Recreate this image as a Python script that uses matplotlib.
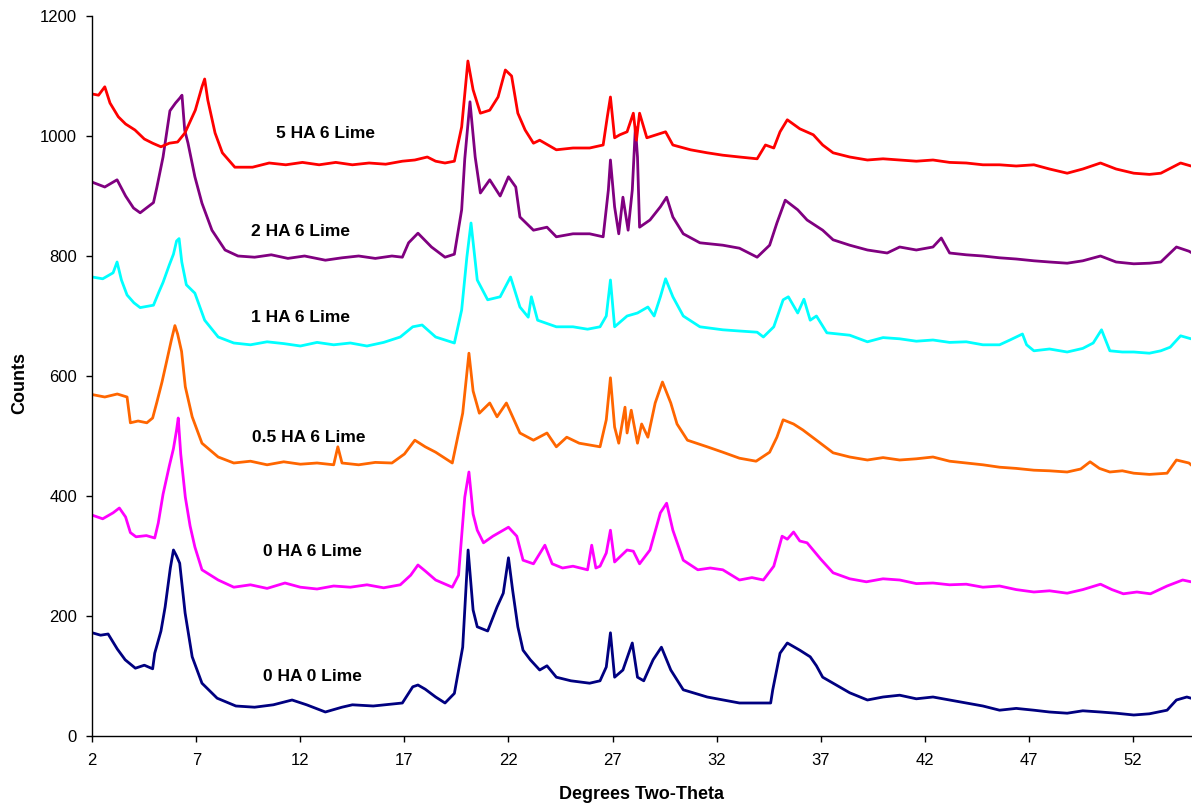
import matplotlib
matplotlib.use("Agg")
import matplotlib.pyplot as plt

# XRD scans, (two-theta, counts)
hA0_lime0 = [
    (2.0, 172), (2.4, 168), (2.76, 170), (3.2, 145), (3.58, 127), (4.07, 113), (4.5, 118),
    (4.9, 112), (5.0, 138), (5.3, 175), (5.5, 215), (5.75, 280), (5.9, 310), (6.05, 300),
    (6.2, 288), (6.46, 205), (6.8, 132), (7.27, 88), (8.0, 63), (8.9, 50), (9.8, 48),
    (10.7, 52), (11.6, 60), (12.3, 52), (13.2, 40), (14.0, 48), (14.5, 52), (15.5, 50),
    (16.9, 55), (17.4, 82), (17.65, 85), (18.0, 78), (18.5, 65), (18.95, 55), (19.4, 71),
    (19.8, 148), (20.06, 310), (20.3, 210), (20.5, 182), (21.0, 175), (21.45, 215),
    (21.75, 238), (22.0, 297), (22.2, 243), (22.45, 182), (22.7, 143), (23.05, 127),
    (23.5, 110), (23.85, 117), (24.3, 98), (25.0, 92), (25.9, 88), (26.4, 92), (26.7, 115),
    (26.9, 172), (27.1, 98), (27.5, 110), (27.95, 155), (28.2, 98), (28.5, 92), (28.95, 127),
    (29.35, 148), (29.8, 110), (30.4, 77), (31.55, 65), (33.1, 55), (34.6, 55), (34.7, 77),
    (35.05, 138), (35.4, 155), (36.0, 143), (36.5, 132), (36.8, 117), (37.1, 98), (37.6, 88),
    (38.4, 72), (39.25, 60), (40.0, 65), (40.8, 68), (41.6, 62), (42.4, 65), (43.2, 60),
    (44.0, 55), (44.8, 50), (45.6, 43), (46.4, 46), (47.25, 43), (48.0, 40), (48.85, 38),
    (49.6, 42), (50.45, 40), (51.2, 38), (52.05, 35), (52.8, 37), (53.65, 43), (54.1, 60),
    (54.6, 65), (54.8, 63),
]
hA0_lime6 = [
    (2.0, 368), (2.5, 362), (3.0, 372), (3.3, 380), (3.6, 365), (3.83, 339), (4.1, 332),
    (4.6, 334), (5.0, 330), (5.17, 355), (5.4, 403), (5.7, 450), (5.9, 479), (6.05, 510),
    (6.13, 530), (6.25, 470), (6.47, 398), (6.7, 350), (6.93, 315), (7.27, 277), (8.05, 260),
    (8.8, 248), (9.6, 252), (10.4, 246), (11.26, 255), (12.0, 248), (12.8, 245), (13.6, 250),
    (14.4, 248), (15.2, 252), (16.0, 247), (16.8, 252), (17.3, 268), (17.65, 285), (18.0, 275),
    (18.5, 260), (19.3, 248), (19.6, 268), (19.9, 398), (20.1, 440), (20.3, 370), (20.5, 343),
    (20.8, 322), (21.25, 333), (21.6, 340), (22.0, 348), (22.4, 333), (22.7, 293), (23.2, 287),
    (23.75, 318), (24.1, 287), (24.6, 280), (25.1, 283), (25.8, 277), (26.0, 318), (26.2, 280),
    (26.4, 283), (26.7, 305), (26.9, 343), (27.1, 290), (27.4, 300), (27.7, 310), (28.0, 308),
    (28.3, 287), (28.8, 310), (29.3, 372), (29.6, 388), (29.9, 343), (30.4, 293), (31.1, 277),
    (31.7, 280), (32.3, 277), (33.1, 260), (33.7, 264), (34.25, 260), (34.75, 283),
    (35.15, 333), (35.4, 328), (35.7, 340), (36.0, 325), (36.35, 322), (37.0, 295),
    (37.6, 272), (38.4, 262), (39.2, 257), (40.0, 262), (40.8, 260), (41.6, 254), (42.4, 255),
    (43.2, 252), (44.0, 253), (44.8, 248), (45.6, 250), (46.4, 244), (47.25, 240), (48.0, 242),
    (48.85, 238), (49.6, 244), (50.45, 253), (51.0, 244), (51.55, 237), (52.2, 240),
    (52.85, 237), (53.65, 250), (54.4, 260), (54.8, 257),
]
hA05_lime6 = [
    (2.0, 569), (2.6, 565), (3.2, 570), (3.67, 565), (3.83, 522), (4.2, 525), (4.62, 522),
    (4.9, 530), (5.1, 556), (5.35, 590), (5.57, 624), (5.8, 660), (5.97, 684), (6.1, 670),
    (6.29, 641), (6.47, 582), (6.8, 532), (7.27, 488), (8.05, 465), (8.8, 455), (9.6, 458),
    (10.4, 452), (11.2, 457), (12.0, 453), (12.8, 455), (13.6, 452), (13.8, 482), (14.0, 455),
    (14.8, 452), (15.6, 456), (16.4, 455), (17.0, 470), (17.5, 493), (18.0, 482), (18.5, 473),
    (19.3, 455), (19.8, 538), (20.1, 638), (20.3, 575), (20.6, 538), (21.1, 555), (21.45, 532),
    (21.9, 555), (22.2, 532), (22.55, 505), (23.2, 493), (23.85, 505), (24.3, 482), (24.8, 498),
    (25.4, 488), (26.4, 482), (26.7, 527), (26.9, 597), (27.1, 515), (27.3, 488), (27.6, 548),
    (27.7, 505), (27.9, 543), (28.2, 488), (28.4, 520), (28.7, 498), (29.05, 555), (29.4, 590),
    (29.8, 555), (30.1, 520), (30.6, 493), (31.55, 482), (32.3, 473), (33.1, 463), (33.9, 458),
    (34.55, 473), (34.9, 498), (35.2, 527), (35.7, 520), (36.15, 510), (36.8, 493), (37.6, 472),
    (38.4, 465), (39.25, 460), (40.0, 464), (40.8, 460), (41.6, 462), (42.4, 465), (43.2, 458),
    (44.0, 455), (44.8, 452), (45.6, 448), (46.4, 446), (47.25, 443), (48.0, 442), (48.85, 440),
    (49.5, 445), (49.95, 457), (50.4, 446), (50.9, 440), (51.5, 442), (52.05, 438), (52.8, 436),
    (53.65, 438), (54.1, 460), (54.7, 455), (54.8, 452),
]
hA1_lime6 = [
    (2.0, 765), (2.5, 762), (3.0, 772), (3.19, 790), (3.4, 760), (3.67, 735), (4.0, 722),
    (4.3, 714), (4.94, 718), (5.2, 740), (5.4, 756), (5.7, 785), (5.9, 803), (6.05, 825),
    (6.17, 829), (6.3, 790), (6.52, 752), (6.93, 738), (7.4, 693), (8.05, 665), (8.8, 655),
    (9.6, 652), (10.4, 657), (11.2, 654), (12.0, 650), (12.8, 656), (13.6, 652), (14.4, 655),
    (15.2, 650), (16.0, 656), (16.8, 665), (17.4, 682), (17.85, 685), (18.5, 665), (19.4, 655),
    (19.75, 710), (20.0, 798), (20.2, 855), (20.5, 760), (21.0, 727), (21.6, 732), (22.1, 765),
    (22.55, 715), (22.95, 698), (23.1, 732), (23.4, 693), (24.3, 682), (25.1, 682), (25.8, 678),
    (26.4, 682), (26.7, 700), (26.9, 760), (27.1, 682), (27.7, 700), (28.2, 705), (28.7, 715),
    (29.0, 700), (29.3, 732), (29.55, 762), (29.9, 732), (30.4, 700), (31.2, 682), (32.3, 677),
    (33.1, 675), (33.95, 673), (34.25, 665), (34.75, 682), (35.2, 727), (35.45, 732),
    (35.9, 705), (36.2, 728), (36.5, 693), (36.8, 700), (37.3, 672), (38.4, 668), (39.25, 657),
    (40.0, 664), (40.8, 662), (41.6, 658), (42.4, 660), (43.2, 656), (44.0, 657), (44.8, 652),
    (45.6, 652), (46.1, 660), (46.7, 670), (46.9, 652), (47.25, 642), (48.0, 645), (48.85, 640),
    (49.6, 646), (50.1, 655), (50.5, 677), (50.9, 642), (51.5, 640), (52.05, 640), (52.8, 638),
    (53.35, 642), (53.8, 648), (54.3, 667), (54.8, 662),
]
hA2_lime6 = [
    (2.0, 923), (2.6, 915), (3.19, 927), (3.6, 900), (3.98, 880), (4.3, 872), (4.6, 880),
    (4.94, 889), (5.1, 914), (5.4, 965), (5.73, 1042), (6.0, 1055), (6.2, 1063), (6.31, 1068),
    (6.44, 1010), (6.6, 988), (6.93, 932), (7.27, 888), (7.75, 843), (8.38, 810), (9.0, 800),
    (9.8, 798), (10.6, 802), (11.4, 796), (12.2, 800), (13.2, 793), (14.0, 797), (14.8, 800),
    (15.6, 796), (16.4, 800), (16.9, 798), (17.2, 822), (17.65, 838), (18.3, 815), (18.95, 798),
    (19.4, 803), (19.75, 877), (19.9, 962), (20.15, 1057), (20.4, 965), (20.65, 905),
    (21.1, 927), (21.6, 900), (22.0, 932), (22.35, 915), (22.55, 865), (23.2, 843), (23.85, 848),
    (24.3, 832), (25.1, 837), (25.9, 837), (26.55, 832), (26.8, 910), (26.9, 960), (27.1, 882),
    (27.3, 837), (27.5, 898), (27.75, 843), (27.95, 910), (28.1, 1015), (28.2, 965), (28.3, 848),
    (28.8, 860), (29.3, 882), (29.6, 898), (29.9, 865), (30.4, 837), (31.2, 822), (32.3, 818),
    (33.1, 813), (33.95, 798), (34.55, 818), (34.9, 855), (35.3, 893), (35.9, 877), (36.35, 860),
    (37.1, 843), (37.6, 827), (38.4, 818), (39.25, 810), (40.2, 805), (40.8, 815), (41.6, 810),
    (42.4, 815), (42.8, 830), (43.2, 805), (44.0, 802), (44.8, 800), (45.6, 797), (46.4, 795),
    (47.25, 792), (48.0, 790), (48.85, 788), (49.6, 792), (50.45, 800), (51.2, 790), (52.05, 787),
    (52.8, 788), (53.35, 790), (54.1, 815), (54.7, 808), (54.8, 806),
]
hA5_lime6 = [
    (2.0, 1070), (2.3, 1068), (2.6, 1082), (2.85, 1055), (3.25, 1032), (3.6, 1020), (4.05, 1010),
    (4.5, 995), (4.9, 988), (5.3, 982), (5.7, 988), (6.1, 990), (6.45, 1005), (6.95, 1043),
    (7.27, 1082), (7.4, 1095), (7.55, 1060), (7.9, 1005), (8.25, 972), (8.85, 948), (9.7, 948),
    (10.5, 955), (11.3, 952), (12.1, 956), (12.9, 952), (13.7, 956), (14.5, 952), (15.3, 955),
    (16.1, 953), (16.9, 958), (17.5, 960), (18.1, 965), (18.5, 958), (18.95, 955), (19.4, 958),
    (19.75, 1015), (20.05, 1125), (20.3, 1077), (20.65, 1038), (21.1, 1043), (21.5, 1065),
    (21.85, 1110), (22.15, 1100), (22.45, 1038), (22.8, 1010), (23.2, 988), (23.5, 993),
    (24.3, 977), (25.1, 980), (25.9, 980), (26.55, 985), (26.75, 1032), (26.9, 1065),
    (27.1, 997), (27.35, 1002), (27.7, 1007), (28.0, 1038), (28.15, 993), (28.3, 1038),
    (28.65, 997), (29.1, 1002), (29.55, 1007), (29.9, 985), (30.75, 977), (31.55, 972),
    (32.3, 968), (33.1, 965), (33.95, 962), (34.35, 985), (34.75, 980), (35.05, 1007),
    (35.4, 1027), (36.0, 1012), (36.65, 1002), (37.1, 985), (37.6, 972), (38.4, 965),
    (39.25, 960), (40.0, 962), (40.8, 960), (41.6, 958), (42.4, 960), (43.2, 956), (44.0, 955),
    (44.8, 952), (45.6, 952), (46.4, 950), (47.25, 952), (48.0, 945), (48.85, 938), (49.6, 945),
    (50.45, 955), (51.2, 945), (52.05, 938), (52.8, 936), (53.35, 938), (54.3, 955), (54.8, 950),
]

series = [hA0_lime0, hA0_lime6, hA05_lime6, hA1_lime6, hA2_lime6, hA5_lime6]
names = ["0 HA 0 Lime", "0 HA 6 Lime", "0.5 HA 6 Lime", "1 HA 6 Lime", "2 HA 6 Lime", "5 HA 6 Lime"]
colors = ["#000080", "#FF00FF", "#FF6600", "#00FFFF", "#800080", "#FF0000"]
label_pos = [(12.6, 100), (12.6, 308), (12.4, 498), (12.0, 697), (12.0, 840), (13.2, 1005)]

plt.rcParams["font.family"] = ["Liberation Sans", "DejaVu Sans"]

fig = plt.figure(figsize=(11.92, 8.05), dpi=100)
ax = fig.add_axes([92.3 / 1192, 1 - 736 / 805, (1191 - 92.3) / 1192, 720 / 805])

for data, c in zip(series, colors):
    xs = [p[0] for p in data]
    ys = [p[1] for p in data]
    ax.plot(xs, ys, color=c, linewidth=2.0)

for name, (lx, ly) in zip(names, label_pos):
    ax.text(lx, ly, name, ha="center", va="center", fontsize=12.5, fontweight="bold")

ax.set_xlim(2, 54.8)
ax.set_ylim(0, 1200)
ax.set_xticks(range(2, 55, 5))
ax.set_yticks(range(0, 1201, 200))
ax.tick_params(direction="out", length=4, width=1, labelsize=12, color="black")
ax.tick_params(axis="y", pad=7)
ax.tick_params(axis="x", pad=8)
for s in ["top", "right"]:
    ax.spines[s].set_visible(False)
for s in ["left", "bottom"]:
    ax.spines[s].set_linewidth(1)

ax.set_xlabel("Degrees Two-Theta", fontsize=13, fontweight="bold")
ax.set_ylabel("Counts", fontsize=13, fontweight="bold")
ax.xaxis.set_label_coords(0.5, -0.069)
ax.yaxis.set_label_coords(-0.058, 0.49)

fig.savefig("out.png", dpi=100)
